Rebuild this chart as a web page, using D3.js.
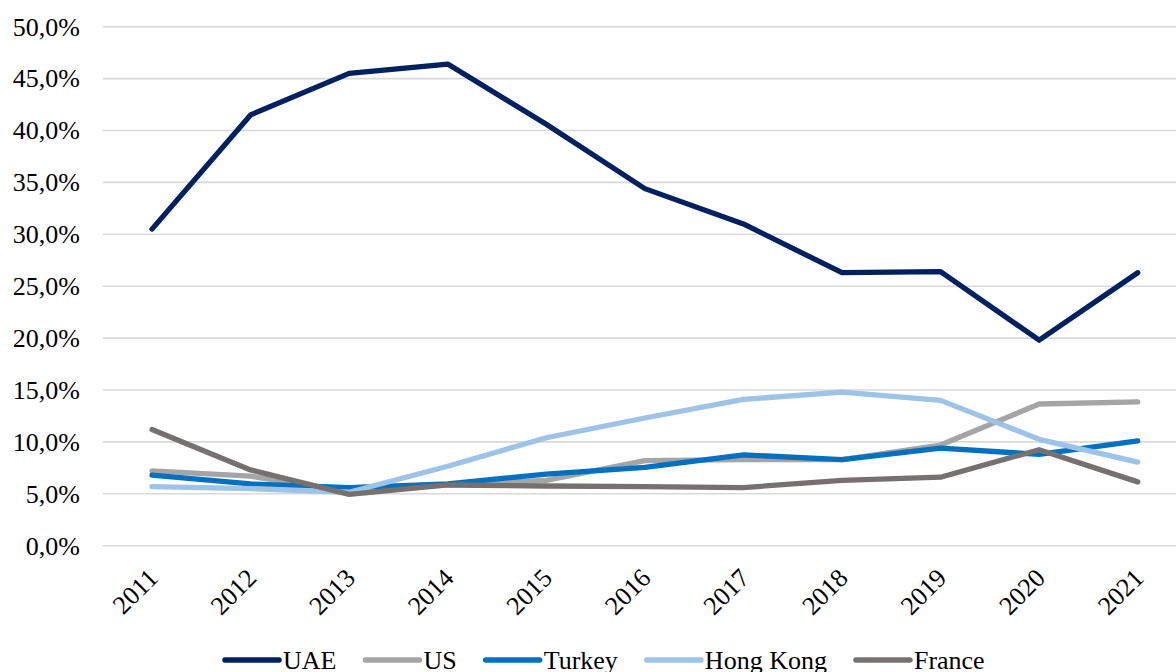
<!DOCTYPE html>
<html>
<head>
<meta charset="utf-8">
<script src="https://cdn.jsdelivr.net/npm/d3@7"></script>
<style>
  html, body { margin: 0; padding: 0; background: #fff; }
  svg { display: block; }
  text { font-family: "Liberation Serif", "Times New Roman", serif; fill: #000; }
</style>
</head>
<body>
<svg id="chart" width="1176" height="672"></svg>
<script>
// Share of each market by year
const years = ["2011","2012","2013","2014","2015","2016","2017","2018","2019","2020","2021"];
const uae      = [30.5, 41.5, 45.5, 46.4, 40.6, 34.4, 31.0, 26.3, 26.4, 19.8, 26.3];
const us       = [7.2, 6.7, 5.2, 5.85, 6.3, 8.2, 8.3, 8.3, 9.7, 13.65, 13.85];
const turkey   = [6.8, 5.95, 5.6, 5.95, 6.9, 7.55, 8.75, 8.3, 9.4, 8.8, 10.1];
const hongKong = [5.7, 5.5, 5.15, 7.65, 10.4, 12.3, 14.1, 14.8, 14.0, 10.25, 8.05];
const france   = [11.2, 7.3, 4.95, 5.85, 5.75, 5.7, 5.6, 6.3, 6.6, 9.25, 6.15];
const yTicks   = [0, 5, 10, 15, 20, 25, 30, 35, 40, 45, 50];

const seriesNames  = ["UAE", "US", "Turkey", "Hong Kong", "France"];
const seriesValues = [uae, us, turkey, hongKong, france];
const seriesColors = ["#002060", "#a5a5a5", "#0070c0", "#9dc3e6", "#767171"];

const svg = d3.select("#chart");
const plot = { left: 102.7, right: 1187, top: 26.7, bottom: 545.7 };

const x = d3.scalePoint().domain(years).range([plot.left, plot.right]).padding(0.5);
const y = d3.scaleLinear().domain([0, 50]).range([plot.bottom, plot.top]);

// horizontal gridlines
svg.append("g").selectAll("line").data(yTicks).join("line")
  .attr("x1", plot.left).attr("x2", 1176)
  .attr("y1", d => y(d)).attr("y2", d => y(d))
  .attr("stroke", "#d9d9d9").attr("stroke-width", 1.6);

// y-axis labels
const fmt = d => d.toFixed(1).replace(".", ",") + "%";
svg.append("g").selectAll("text").data(yTicks).join("text")
  .attr("x", 80).attr("y", d => y(d)).attr("dy", "0.34em")
  .attr("text-anchor", "end").attr("font-size", 26)
  .text(fmt);

// x-axis labels, rotated
svg.append("g").selectAll("text").data(years).join("text")
  .attr("transform", d => `translate(${x(d) + 1},${573}) rotate(-45)`)
  .attr("text-anchor", "end").attr("dy", "0.35em").attr("font-size", 26)
  .text(d => d);

// series lines
const line = d3.line().x((d, i) => x(years[i])).y(d => y(d));
svg.append("g").selectAll("path").data(seriesValues).join("path")
  .attr("d", d => line(d))
  .attr("fill", "none")
  .attr("stroke", (d, i) => seriesColors[i])
  .attr("stroke-width", 5.3)
  .attr("stroke-linecap", "round")
  .attr("stroke-linejoin", "round");

// legend
const legend = svg.append("g");
const swatchW = 54, swatchGap = 4, itemGap = 29, legendY = 660;
const items = legend.selectAll("g").data(seriesNames).join("g");
items.append("line")
  .attr("x1", 0).attr("x2", swatchW).attr("y1", legendY).attr("y2", legendY)
  .attr("stroke", (d, i) => seriesColors[i]).attr("stroke-width", 5.5)
  .attr("stroke-linecap", "round");
items.append("text")
  .attr("x", swatchW + swatchGap).attr("y", 669).attr("font-size", 26)
  .text(d => d);
let widths = [];
items.each(function () { widths.push(this.getBBox().width); });
let cx = 225;
items.attr("transform", (d, i) => { const t = `translate(${cx},0)`; cx += widths[i] + itemGap; return t; });
</script>
</body>
</html>
